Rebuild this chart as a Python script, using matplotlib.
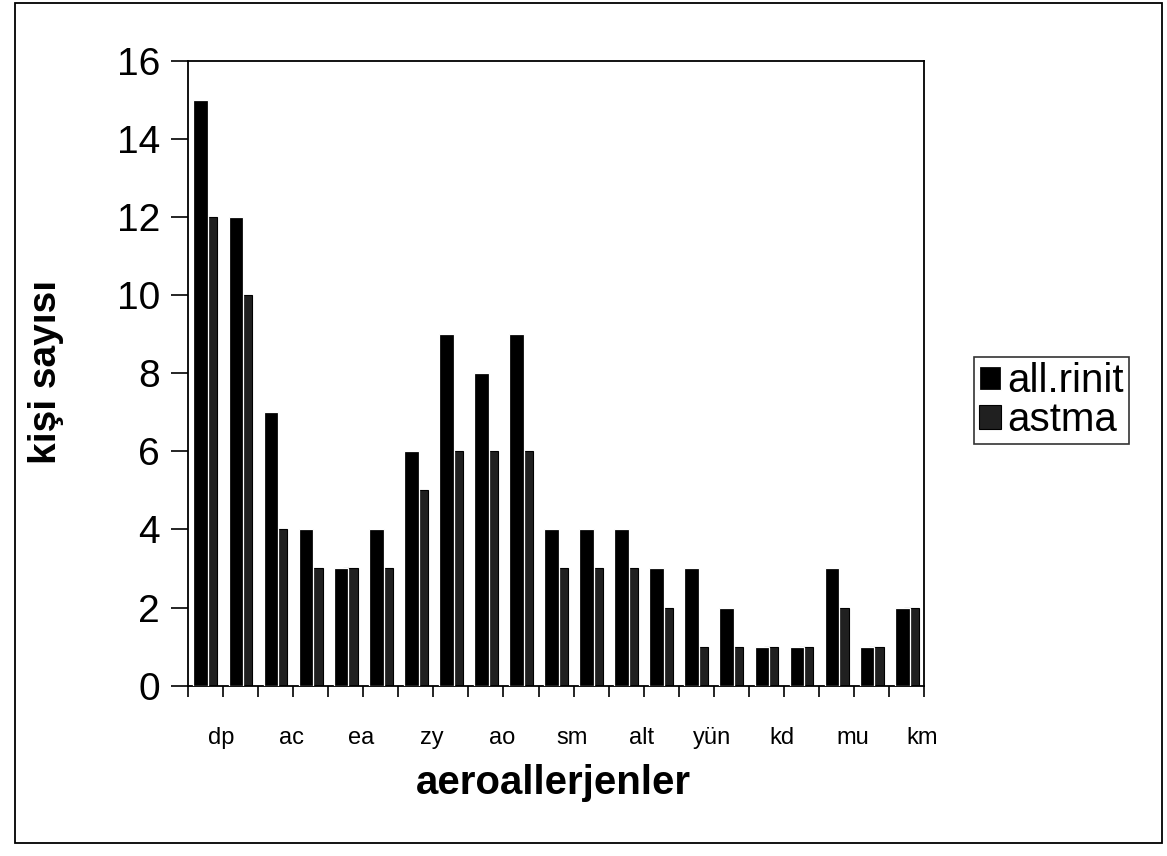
import matplotlib.pyplot as plt
from matplotlib.patches import Rectangle
import numpy as np

# values
categories = ["dp", "", "ac", "", "ea", "", "zy", "", "ao", "", "sm",
              "", "alt", "", "yün", "", "kd", "", "mu", "", "km"]
all_rinit = [15, 12, 7, 4, 3, 4, 6, 9, 8, 9, 4, 4, 4, 3, 3, 2, 1, 1, 3, 1, 2]
astma = [12, 10, 4, 3, 3, 3, 5, 6, 6, 6, 3, 3, 3, 2, 1, 1, 1, 1, 2, 1, 2]

plt.rcParams['font.family'] = ['Liberation Sans', 'DejaVu Sans']

fig = plt.figure(figsize=(11.67, 8.56), dpi=100)
ax = fig.add_axes([0.161, 0.199, 0.631, 0.730])

x = np.arange(len(categories))
w = 0.42
off = 0.13
# astma first, all.rinit on top with a white edge (the thin gap seen in the scan)
ax.bar(x + off, astma, w, color='#202020', edgecolor='black', linewidth=0.8,
       label='astma', zorder=2)
ax.bar(x - off, all_rinit, w, color='black', edgecolor='white', linewidth=0.9,
       label='all.rinit', zorder=3)

ax.set_xlim(-0.5, len(categories) - 0.5)
ax.set_ylim(0, 16)
ax.set_yticks(range(0, 17, 2))
ax.tick_params(axis='y', direction='out', length=12, width=1.2, labelsize=28, pad=8)

# labels sit under every other group, shifted a bit to the right like the original
lab_pos = [i + 0.45 for i, c in enumerate(categories) if c]
ax.set_xticks(lab_pos)
ax.set_xticklabels([c for c in categories if c])
ax.tick_params(axis='x', which='major', length=0, labelsize=17, pad=30)
ax.set_xticks(np.arange(-0.5, len(categories)), minor=True)
ax.tick_params(axis='x', which='minor', direction='out', length=8, width=1.2)

for s in ax.spines.values():
    s.set_linewidth(1.3)

fig.text(0.039, 0.565, 'kişi sayısı', rotation=90, ha='center', va='center',
         fontsize=28, fontweight='bold')
fig.text(0.474, 0.085, 'aeroallerjenler', ha='center', va='center',
         fontsize=29, fontweight='bold')

handles, labels = ax.get_legend_handles_labels()
leg = fig.legend(handles[::-1], labels[::-1], loc='center left',
                 bbox_to_anchor=(0.835, 0.532), fontsize=29, frameon=True,
                 fancybox=False, handlelength=0.55, handleheight=0.55,
                 handletextpad=0.15, borderpad=0.12, labelspacing=0.02,
                 borderaxespad=0.0)
leg.get_frame().set_edgecolor('black')
leg.get_frame().set_linewidth(1.2)

# outer chart border
fig.patches.append(Rectangle((0.013, 0.015), 0.983, 0.981, transform=fig.transFigure,
                             fill=False, edgecolor='black', linewidth=1.3))

fig.savefig('out.png', dpi=100)
